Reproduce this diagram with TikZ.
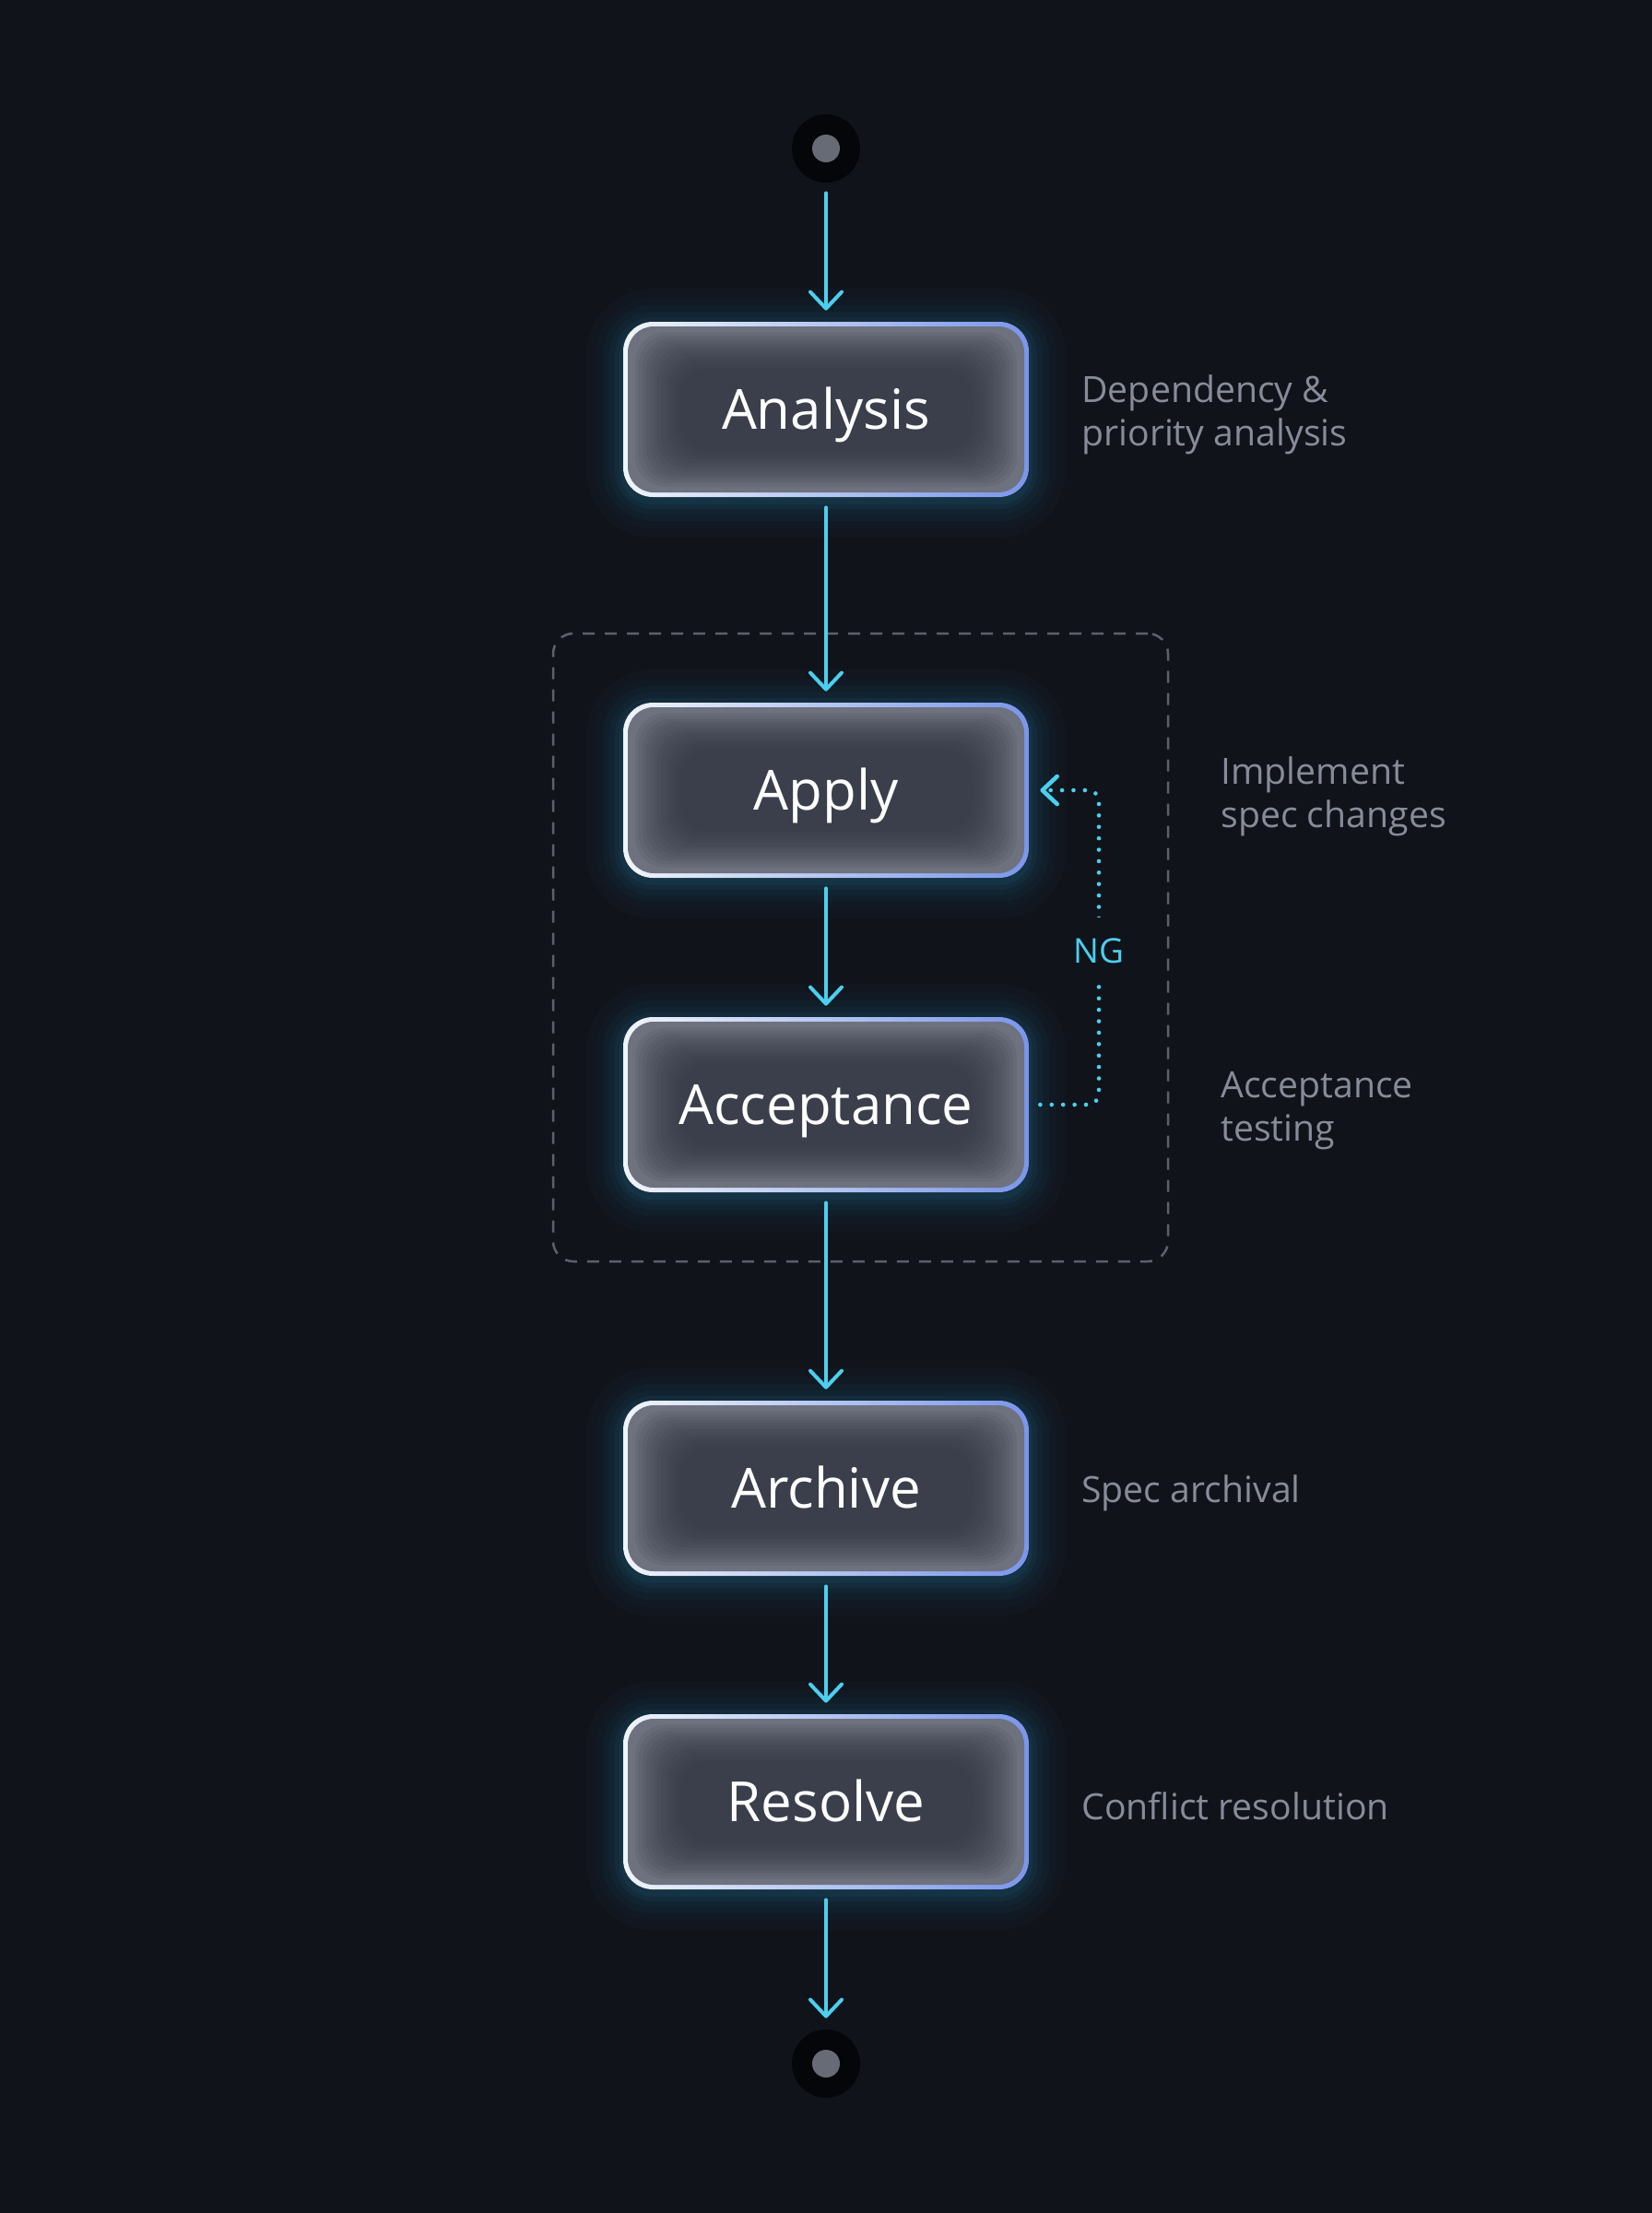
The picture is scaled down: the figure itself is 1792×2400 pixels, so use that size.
\documentclass[tikz,border=0pt]{standalone}
\usepackage{fontspec}
\setmainfont{Open Sans}
\usetikzlibrary{arrows.meta}
\definecolor{bg}{HTML}{11131B}
\definecolor{flow}{HTML}{4CCFEE}
\definecolor{glowc}{HTML}{2AA8D8}
\definecolor{rimL}{HTML}{F0F4FB}
\definecolor{rimM}{HTML}{B4C6F2}
\definecolor{rimR}{HTML}{7A95EC}
\definecolor{glassE}{HTML}{6E727E}
\definecolor{glassD}{HTML}{2F333F}
\definecolor{notec}{HTML}{878C99}
\definecolor{grp}{HTML}{5C616D}
\definecolor{dotout}{HTML}{05060A}
\definecolor{dotin}{HTML}{676B76}
\tikzset{
  flowarrow/.style={draw=flow, line width=2pt, line cap=round,
    -{Straight Barb[round,length=9pt,width=17pt]}, shorten <=5.5pt, shorten >=6pt},
  ngloop/.style={draw=flow, line width=2.3pt, line cap=round, dash pattern=on 0pt off 6.2pt,
    rounded corners=6pt, -{Straight Barb[round,length=8pt,width=15pt]}},
  nglabel/.style={fill=bg, text=flow, font=\fontsize{18.5}{22}\selectfont, inner sep=0pt,
    minimum height=36pt, minimum width=30pt},
  boxlabel/.style={text=white, font=\fontsize{30}{36}\selectfont, minimum width=220pt,
    minimum height=95pt, inner sep=0pt, shape=rectangle, text height=21.5pt, text depth=0pt},
  notes/.style={text=notec, font=\fontsize{19.6}{23.5}\selectfont, align=left, anchor=west, inner sep=0pt},
  termdot/.style={circle, fill=dotout, minimum size=37pt, inner sep=0pt},
  group/.style={draw=grp, line width=1.25pt, dash pattern=on 6.5pt off 5.5pt, rounded corners=11pt,
    minimum width=333.5pt, minimum height=340.5pt, inner sep=0pt},
}
\newcommand\glassbox[3]{%
  \foreach \w/\o in {40/0.025,30/0.03,22/0.035,15/0.045,9/0.055,4/0.07}
    \draw[glowc, line width=\w pt, opacity=\o, rounded corners=16pt] (676,{#2-95+4}) rectangle (1116,{#2+95+4});
  \fill[left color=rimL, right color=rimR, middle color=rimM, rounded corners=16pt] (676,{#2-95}) rectangle (1116,{#2+95});
  \begin{scope}
    \clip[rounded corners=14pt] (681,{#2-90}) rectangle (1111,{#2+90});
    \fill[glassE] (676,{#2-95}) rectangle (1116,{#2+95});
    \foreach \d in {8,12,...,56}
      \fill[glassD, opacity=0.1, rounded corners=16pt] (681+\d,{#2-90+\d*0.8}) rectangle (1111-\d,{#2+90-\d*0.8});
  \end{scope}
  \node[boxlabel] (#1) at (896,#2) {#3};
}
\begin{document}
\begin{tikzpicture}[x=0.5pt, y=-0.5pt]
  \fill[bg] (0,0) rectangle (1792,2400);
  \useasboundingbox (0,0) rectangle (1792,2400);

  \node[group] (grp) at (933.5,1027.5) {};

  \node[termdot] (start) at (896,161) {};
  \fill[dotin] (start.center) circle[radius=7.5pt];
  \node[termdot] (stop) at (896,2238) {};
  \fill[dotin] (stop.center) circle[radius=7.5pt];

  \glassbox{analysis}{444}{Analysis}
  \glassbox{apply}{857}{Apply}
  \glassbox{accept}{1198}{Acceptance}
  \glassbox{archive}{1614}{Archive}
  \glassbox{resolve}{1954}{Resolve}

  \draw[flowarrow] (start) -- (analysis);
  \draw[flowarrow] (analysis) -- (apply);
  \draw[flowarrow] (apply) -- (accept);
  \draw[flowarrow] (accept) -- (archive);
  \draw[flowarrow] (archive) -- (resolve);
  \draw[flowarrow] (resolve) -- (stop);

  \coordinate (ngx) at (1192,1031);
  \draw[ngloop] ([xshift=6pt]accept.east) -| (ngx) node[nglabel] (ng) {NG} |- ([xshift=6pt]apply.east);

  \node[notes] (n1) at (1173,450) {Dependency \&\\priority analysis};
  \node[notes] (n2) at (1324,864) {Implement\\spec changes};
  \node[notes] (n3) at (1324,1205) {Acceptance\\testing};
  \node[notes] (n4) at (1173,1619) {Spec archival};
  \node[notes] (n5) at (1173,1959) {Conflict resolution};
\end{tikzpicture}
\end{document}
